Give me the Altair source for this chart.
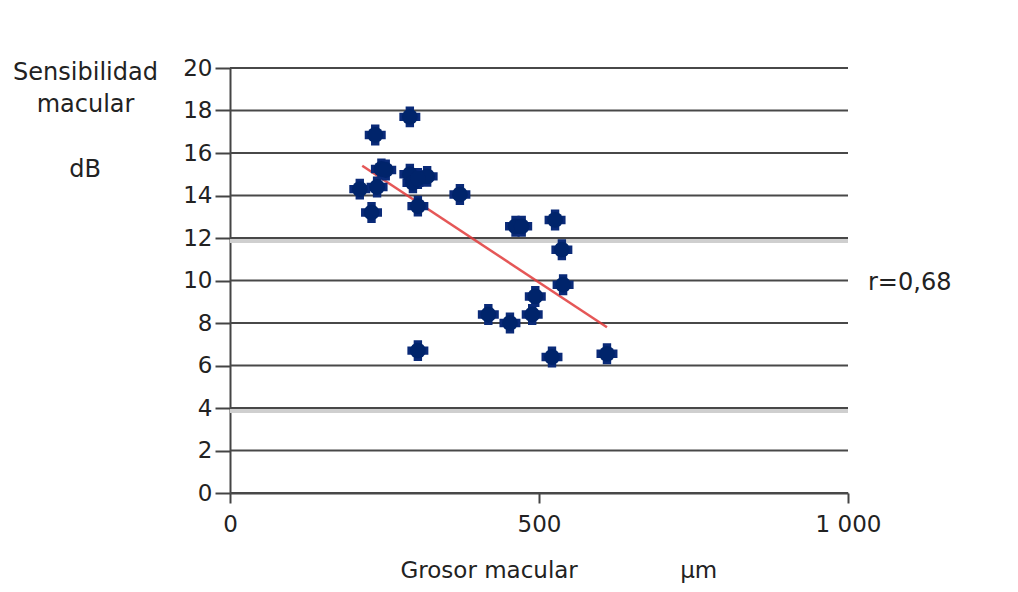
import altair as alt
import pandas as pd

# Data
grosor = [291, 235, 245, 252, 210, 238, 229, 291, 319, 296, 304, 304, 372, 462, 472, 526, 537, 539, 494, 489, 418, 453, 304, 521, 610]
sens = [17.7, 16.85, 15.25, 15.2, 14.3, 14.4, 13.2, 15.0, 14.9, 14.6, 14.8, 13.5, 14.05, 12.55, 12.55, 12.85, 11.45, 9.8, 9.25, 8.4, 8.4, 8.0, 6.7, 6.4, 6.55]
trend_x = [214, 610]
trend_y = [15.4, 7.8]
y_ticks = list(range(0, 21, 2))
shadow_ticks = [12, 4]
x_ticks = [0, 500, 1000]

FONT = "DejaVu Sans"
pts = pd.DataFrame({"g": grosor, "s": sens})
trend = pd.DataFrame({"g": trend_x, "s": trend_y})
grid = pd.DataFrame({"s": y_ticks})
shadow = pd.DataFrame({"s": shadow_ticks})

xs = alt.Scale(domain=[0, 1000], nice=False)
ys = alt.Scale(domain=[0, 20], nice=False)

x_axis = alt.Axis(
    values=x_ticks, grid=False, labelFlush=False,
    title="Grosor macular" + "\u00a0" * 14 + "µm",
    labelExpr="replace(format(datum.value, ','), ',', ' ')",
    domainColor="#444", domainWidth=2, tickColor="#444", tickWidth=2, tickSize=10,
    labelFont=FONT, labelFontSize=23, labelColor="#222", labelPadding=10,
    titleFont=FONT, titleFontSize=23, titleColor="#222", titleFontWeight="normal",
    titleAlign="left", titleX=170, titleY=77, titleBaseline="middle",
)
y_axis = alt.Axis(
    values=y_ticks, grid=False, labelFlush=False,
    title=["Sensibilidad", "macular"],
    domainColor="#444", domainWidth=2, tickColor="#444", tickWidth=2, tickSize=15,
    labelFont=FONT, labelFontSize=23, labelColor="#222", labelPadding=3,
    titleFont=FONT, titleFontSize=24, titleColor="#222", titleFontWeight="normal",
    titleAngle=0, titleAlign="center", titleX=-145, titleY=4, titleBaseline="middle",
    titleLineHeight=32,
)

shadow_layer = alt.Chart(shadow).mark_rule(color="#cfcfcf", strokeWidth=6, yOffset=2).encode(
    y=alt.Y("s:Q", scale=ys)
)
grid_layer = alt.Chart(grid).mark_rule(color="#484848", strokeWidth=2).encode(
    y=alt.Y("s:Q", scale=ys, axis=y_axis)
)
trend_layer = alt.Chart(trend).mark_line(color="#e03a3a", strokeWidth=2.5, opacity=0.85).encode(
    x=alt.X("g:Q", scale=xs, axis=x_axis), y=alt.Y("s:Q", scale=ys)
)
cross_layer = alt.Chart(pts).mark_point(shape="cross", filled=True, size=440, color="#0a2a78", opacity=1).encode(
    x=alt.X("g:Q", scale=xs), y=alt.Y("s:Q", scale=ys)
)
dot_layer = alt.Chart(pts).mark_point(shape="circle", filled=True, size=250, color="#00246b", opacity=1).encode(
    x=alt.X("g:Q", scale=xs), y=alt.Y("s:Q", scale=ys)
)
r_layer = alt.Chart(pd.DataFrame({"t": ["r=0,68"]})).mark_text(
    font=FONT, fontSize=24, color="#222", align="left", baseline="middle"
).encode(x=alt.value(638), y=alt.value(215), text="t:N")
db_layer = alt.Chart(pd.DataFrame({"t": ["dB"]})).mark_text(
    font=FONT, fontSize=24, color="#222", align="center", baseline="middle"
).encode(x=alt.value(-145), y=alt.value(102), text="t:N")

chart = alt.layer(shadow_layer, grid_layer, trend_layer, cross_layer, dot_layer, r_layer, db_layer).properties(
    width=618, height=425, autosize="none",
    padding={"left": 222, "top": 60, "right": 150, "bottom": 91},
    background="white",
).configure_view(stroke=None)

chart.save("out.html", embed_options={"renderer": "svg", "actions": False})
